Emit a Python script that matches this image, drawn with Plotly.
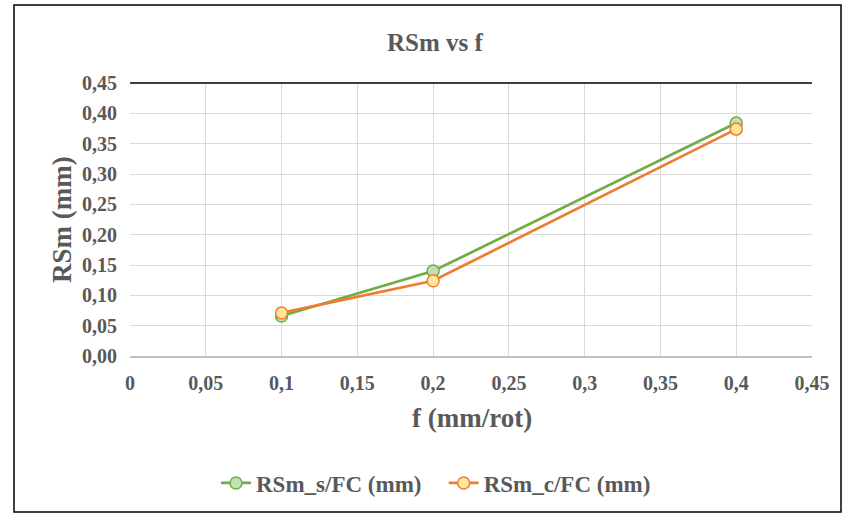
import plotly.graph_objects as go

f_vals = [0.1, 0.2, 0.4]
rsm_s = [0.066, 0.140, 0.384]
rsm_c = [0.071, 0.124, 0.374]
x_ticks = [0, 0.05, 0.1, 0.15, 0.2, 0.25, 0.3, 0.35, 0.4, 0.45]
x_labels = ["0", "0,05", "0,1", "0,15", "0,2", "0,25", "0,3", "0,35", "0,4", "0,45"]
y_ticks = [0, 0.05, 0.1, 0.15, 0.2, 0.25, 0.3, 0.35, 0.4, 0.45]
y_labels = ["0,00", "0,05", "0,10", "0,15", "0,20", "0,25", "0,30", "0,35", "0,40", "0,45"]

FONT = "Liberation Serif"
GRAY = "#595959"

fig = go.Figure()
fig.add_trace(go.Scatter(
    x=f_vals, y=rsm_s, mode="lines+markers", name="<b>RSm_s/FC (mm)</b>&nbsp;&nbsp;&nbsp;",
    line=dict(color="#70AD47", width=2.75),
    marker=dict(size=12, color="#C5E0B4", line=dict(color="#70AD47", width=1.5)),
))
fig.add_trace(go.Scatter(
    x=f_vals, y=rsm_c, mode="lines+markers", name="<b>RSm_c/FC (mm)</b>",
    line=dict(color="#ED7D31", width=2.75),
    marker=dict(size=12, color="#FFE699", line=dict(color="#ED7D31", width=1.5)),
))

W, H = 844, 513
L, R, T, B = 130, 32, 83, 157
pw = W - L - R
ph = H - T - B

def px_x(px):
    return (px - L) / pw

def px_y(py):
    return (H - B - py) / ph

fig.update_layout(
    width=W, height=H,
    margin=dict(l=L, r=R, t=T, b=B, autoexpand=False),
    paper_bgcolor="white", plot_bgcolor="white",
    font=dict(family=FONT, color=GRAY),
    xaxis=dict(
        range=[0, 0.45], tickvals=x_ticks,
        ticktext=["<b>%s</b>" % t for t in x_labels],
        showgrid=True, gridcolor="#D9D9D9", gridwidth=1.3,
        zeroline=False, showline=True, linecolor="#BFBFBF", linewidth=1.5,
        tickfont=dict(size=20, color=GRAY, family=FONT), ticks="",
        ticklabelstandoff=8,
    ),
    yaxis=dict(
        range=[0, 0.45], tickvals=y_ticks,
        ticktext=["<b>%s</b>" % t for t in y_labels],
        showgrid=True, gridcolor="#D9D9D9", gridwidth=1.3,
        zeroline=False, showline=False,
        tickfont=dict(size=20, color=GRAY, family=FONT), ticks="",
        ticklabelstandoff=12,
    ),
    legend=dict(
        orientation="h", x=px_x(436), xanchor="center", xref="paper",
        y=px_y(483), yanchor="middle",
        font=dict(size=23, color=GRAY, family=FONT),
        bgcolor="rgba(0,0,0,0)",
    ),
    showlegend=True,
    annotations=[
        dict(text="<b>RSm vs f</b>", x=px_x(435), y=px_y(42), xref="paper", yref="paper",
             xanchor="center", yanchor="middle", showarrow=False,
             font=dict(size=25, color=GRAY, family=FONT)),
        dict(text="<b>f (mm/rot)</b>", x=px_x(472), y=px_y(418), xref="paper", yref="paper",
             xanchor="center", yanchor="middle", showarrow=False,
             font=dict(size=27, color=GRAY, family=FONT)),
        dict(text="<b>RSm (mm)</b>", x=px_x(62), y=px_y(220), xref="paper", yref="paper",
             xanchor="center", yanchor="middle", showarrow=False, textangle=-90,
             font=dict(size=27, color=GRAY, family=FONT)),
    ],
)

fig.add_shape(type="line", xref="paper", yref="paper",
              x0=0, x1=1, y0=1, y1=1, line=dict(color="black", width=1.5))
fig.add_shape(type="rect", xref="paper", yref="paper",
              x0=px_x(14), x1=px_x(841),
              y0=px_y(512), y1=px_y(5),
              line=dict(color="black", width=1.5), fillcolor="rgba(0,0,0,0)", layer="above")

fig.write_html("out.html", config={"displayModeBar": False},
               post_script="document.body.style.margin='0';document.body.style.overflow='hidden';")
